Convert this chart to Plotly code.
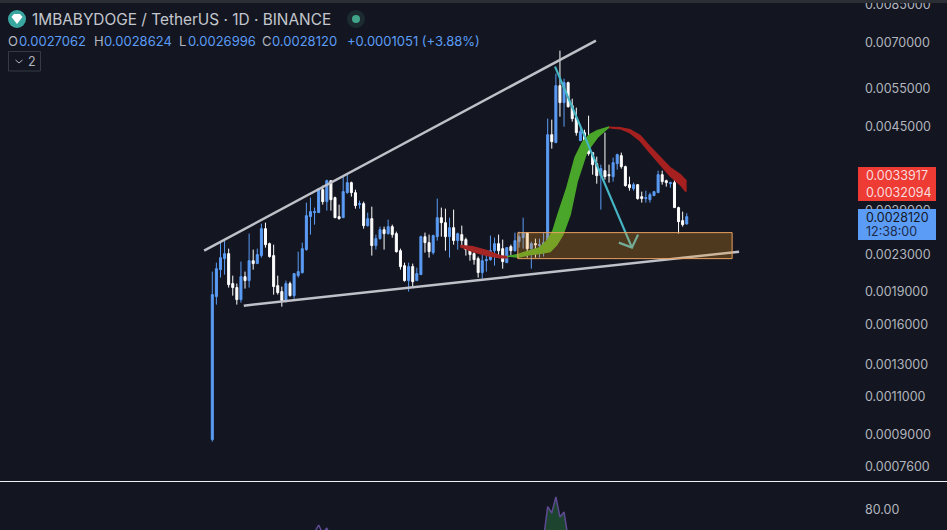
import numpy as np
import plotly.graph_objects as go

# OHLC in thousandths of USDT, one entry per daily bar
opens = [.877,1.852,2.132,2.258,2.318,1.982,1.941,1.823,2.055,2.013,2.234,2.200,2.294,2.641,2.442,2.294,1.961,1.901,1.804,1.982,
 1.861,2.066,2.099,2.367,2.812,2.872,2.872,3.238,3.041,3.394,3.106,2.812,2.797,3.188,3.359,3.188,2.994,3.010,2.683,2.783,
 2.417,2.507,2.627,2.573,2.669,2.573,2.354,2.177,2.013,2.166,2.013,2.077,2.533,2.455,2.330,2.533,2.797,2.725,2.533,2.655,
 2.481,2.560,2.494,2.379,2.318,2.258,2.099,2.234,2.246,2.354,2.442,2.379,2.211,2.404,2.354,2.468,2.520,2.587,2.379,2.442,
 2.417,2.417,2.417,4.316,4.140,5.576,5.102,5.664,5.022,4.717,4.183,4.362,4.205,3.929,3.709,3.484,3.576,3.502,3.466,3.709,
 3.868,3.652,3.324,3.255,3.324,3.122,3.090,3.073,3.138,3.188,3.502,3.394,3.341,3.359,2.948,2.754,2.7062]
highs = [2.110,2.211,2.455,2.481,2.379,2.066,1.982,2.223,2.110,2.573,2.367,2.379,2.711,2.725,2.455,2.429,2.066,1.951,2.013,2.002,
 2.088,2.342,2.455,3.026,3.106,2.948,3.255,3.307,3.412,3.394,3.122,2.994,3.466,3.502,3.377,3.238,3.057,3.041,2.872,2.963,
 2.560,2.669,2.669,2.768,2.697,2.600,2.379,2.211,2.211,2.200,2.154,2.547,2.587,2.560,2.560,3.090,2.948,2.932,2.797,2.917,
 2.587,2.683,2.520,2.404,2.392,2.282,2.306,2.294,2.547,2.520,2.560,2.494,2.392,2.429,2.587,2.600,2.797,2.587,2.468,2.507,
 2.507,2.587,4.693,4.668,5.937,6.695,5.784,5.694,5.209,4.970,4.548,4.431,4.767,3.929,3.848,3.690,4.362,3.690,3.828,3.909,
 3.929,3.671,3.466,3.359,3.324,3.205,3.221,3.188,3.205,3.576,3.576,3.412,3.377,3.558,2.963,2.887,2.8624]
lows = [.868,1.776,2.045,2.077,1.941,1.861,1.776,1.795,1.931,1.941,2.132,2.200,2.270,2.392,2.270,1.871,1.871,1.757,1.795,1.852,
 1.832,2.045,2.088,2.354,2.560,2.697,2.872,2.994,2.902,2.902,2.797,2.768,2.797,3.171,3.122,2.932,2.932,2.641,2.669,2.294,
 2.367,2.494,2.367,2.560,2.520,2.330,2.132,2.002,1.901,1.941,2.013,2.077,2.330,2.270,2.306,2.481,2.533,2.354,2.270,2.429,
 2.367,2.404,2.294,2.234,2.188,2.045,2.034,2.110,2.234,2.177,2.270,2.143,2.211,2.294,2.342,2.392,2.379,2.270,2.143,2.270,
 2.270,2.282,2.417,4.012,4.140,4.742,4.501,4.970,4.620,4.294,4.183,4.033,3.868,3.502,3.341,2.917,3.412,3.359,3.377,3.595,
 3.614,3.290,3.221,3.221,3.073,3.026,3.026,3.026,3.138,3.188,3.324,3.290,3.272,2.948,2.573,2.669,2.6996]
closes = [1.871,2.143,2.270,2.318,1.971,1.941,1.823,2.055,2.013,2.234,2.200,2.306,2.641,2.429,2.282,1.951,1.891,1.813,1.982,1.861,
 2.088,2.110,2.379,2.827,2.887,2.887,3.255,3.041,3.394,3.073,2.797,2.783,3.205,3.359,3.188,2.979,3.010,2.683,2.783,2.417,
 2.507,2.627,2.573,2.669,2.560,2.342,2.166,2.013,2.166,2.002,2.088,2.533,2.455,2.342,2.547,2.797,2.725,2.533,2.655,2.481,
 2.573,2.481,2.367,2.306,2.246,2.099,2.234,2.246,2.354,2.442,2.354,2.223,2.392,2.354,2.481,2.533,2.587,2.379,2.442,2.429,
 2.429,2.455,4.316,4.161,5.576,5.102,5.664,4.996,4.693,4.362,4.385,4.183,3.909,3.690,3.484,3.614,3.466,3.484,3.729,3.888,
 3.652,3.307,3.272,3.324,3.090,3.090,3.106,3.155,3.205,3.502,3.377,3.359,3.359,2.948,2.739,2.697,2.8120]
bars = list(range(len(closes)))

# Drawn objects, as (bar, price in thousandths)
upper_trend_bars = [-2.0, 93.8]
upper_trend_prices = [2.354, 7.055]
lower_trend_bars = [7.7, 128.8]
lower_trend_prices = [1.766, 2.342]
zone_bars = [74.7, 127.1]
zone_prices = [2.258, 2.587]

green_bars = [72.05,74.5,77.7,80.1,81.9,83.3,84.5,86.7,88.7,90.6,92.3,94.1,96.8,
              96.8,94.3,91.6,89.2,87.5,85.7,84.2,82.6,80.1,77.7,74.5]
green_prices = [2.282,2.306,2.354,2.392,2.481,2.614,2.842,3.272,3.828,4.161,4.316,4.408,4.489,
                4.477,4.272,3.950,3.377,2.842,2.560,2.429,2.342,2.318,2.306,2.270]
red_bars = [96.8,99.7,102.1,104.6,107,109.5,111.9,114.4,115.8,
            115.8,114.4,111.9,109.5,107,104.6,102.1,99.7,96.8]
red_prices = [4.489,4.477,4.431,4.294,4.054,3.828,3.633,3.502,3.394,
              3.205,3.324,3.484,3.690,3.929,4.183,4.362,4.454,4.477]
small_red_bars = [60.6,63.7,67.2,70.3,72.05,72.05,70.3,67.2,63.7,60.6]
small_red_prices = [2.417,2.404,2.354,2.294,2.282,2.270,2.270,2.294,2.342,2.404]
arrow_bars = [83.8,102.6,None,99.4,102.6,104.1]
arrow_prices = [6.159,2.392,None,2.455,2.392,2.560]

# Lower pane oscillator, only the two stretches that reach into view
rsi_bars_a = [25,26,27,28,29]
rsi_vals_a = [56,63.7,55,60.6,50]
rsi_bars_b = [81,82,83,84,85,86,87]
rsi_vals_b = [50,82.8,76.2,92.9,72,77.2,50]

price_ticks = [0.0085,0.0070,0.0055,0.0045,0.0029,0.0023,0.0019,0.0016,0.0013,0.0011,0.0009,0.00076]
price_tick_labels = ["0.0085000","0.0070000","0.0055000","0.0045000","0.0029000","0.0023000",
                     "0.0019000","0.0016000","0.0013000","0.0011000","0.0009000","0.0007600"]

BG = "#131620"
BLUE = "#5b9cf6"
GREY = "#b2b5be"
FONT = "Inter"
W_PLOT = 858.0
H = 530.0
BAR_PX = 4.09
FIRST_PX = 212.3


def mk(a):
    return [None if v is None else v * 1e-3 for v in a]


def px(x):
    return x / W_PLOT


def py(y):
    return 1 - y / H


def ribbon(x, y, color):
    return go.Scatter(x=x, y=mk(y), mode="lines", fill="toself", fillcolor=color,
                      line=dict(color=color, width=1.5), hoverinfo="skip", showlegend=False)


fig = go.Figure()
fig.add_trace(ribbon(small_red_bars, small_red_prices, "#a62626"))
fig.add_trace(ribbon(red_bars, red_prices, "#a62020"))
fig.add_trace(ribbon(green_bars, green_prices, "#4aa62a"))
fig.add_trace(go.Candlestick(x=bars, open=mk(opens), high=mk(highs), low=mk(lows), close=mk(closes),
                             increasing=dict(line=dict(color=BLUE, width=1), fillcolor=BLUE),
                             decreasing=dict(line=dict(color="#ffffff", width=1), fillcolor="#ffffff"),
                             whiskerwidth=0, hoverinfo="skip", showlegend=False))
fig.add_trace(go.Scatter(x=arrow_bars, y=mk(arrow_prices), mode="lines",
                         line=dict(color="#45b5c4", width=2.2), connectgaps=False,
                         hoverinfo="skip", showlegend=False))
fig.add_trace(go.Scatter(x=upper_trend_bars, y=mk(upper_trend_prices), mode="lines",
                         line=dict(color="#bfc0c8", width=2.5), hoverinfo="skip", showlegend=False))
fig.add_trace(go.Scatter(x=lower_trend_bars, y=mk(lower_trend_prices), mode="lines",
                         line=dict(color="#bfc0c8", width=2.5), hoverinfo="skip", showlegend=False))
fig.add_trace(go.Scatter(x=rsi_bars_a, y=rsi_vals_a, yaxis="y2", mode="lines",
                         line=dict(color="#5d4a92", width=1.5), hoverinfo="skip", showlegend=False))
fig.add_trace(go.Scatter(x=rsi_bars_b, y=rsi_vals_b, yaxis="y2", mode="lines", fill="tozeroy",
                         fillcolor="rgba(34,84,52,0.75)",
                         line=dict(color="#5d4a92", width=1.5), hoverinfo="skip", showlegend=False))

shapes = [
    dict(type="rect", xref="paper", yref="paper", x0=0, x1=px(947), y0=py(3), y1=py(0),
         fillcolor="#2c2e36", line_width=0),
    dict(type="line", xref="paper", yref="paper", x0=0, x1=px(947), y0=py(481.5), y1=py(481.5),
         line=dict(color="#f0f0f2", width=1)),
    dict(type="rect", xref="x", yref="y", x0=zone_bars[0], x1=zone_bars[1],
         y0=zone_prices[0] * 1e-3, y1=zone_prices[1] * 1e-3, layer="above",
         fillcolor="rgba(240,150,30,0.27)", line=dict(color="#e8a060", width=1)),
    dict(type="rect", xref="paper", yref="paper", x0=px(858), x1=px(936), y0=py(201), y1=py(167),
         fillcolor="#ee3b34", line_width=0, layer="above"),
    dict(type="rect", xref="paper", yref="paper", x0=px(858), x1=px(936), y0=py(240), y1=py(209),
         fillcolor=BLUE, line_width=0, layer="above"),
    # header icons
    dict(type="circle", xref="paper", yref="paper", x0=px(8), x1=px(26), y0=py(28), y1=py(10),
         fillcolor="#3aa6a0", line_width=0),
    dict(type="path", xref="paper", yref="paper",
         path=f"M {px(11.5)} {py(17)} L {px(14)} {py(14)} L {px(20)} {py(14)} L {px(22.5)} {py(17)} "
              f"L {px(17)} {py(24)} Z",
         fillcolor="#ffffff", line_width=0),
    dict(type="circle", xref="paper", yref="paper", x0=px(347), x1=px(365), y0=py(28), y1=py(10),
         fillcolor="#1b2b30", line_width=0),
    dict(type="circle", xref="paper", yref="paper", x0=px(352), x1=px(360), y0=py(23), y1=py(15),
         fillcolor="#42a58a", line_width=0),
    dict(type="rect", xref="paper", yref="paper", x0=px(8.5), x1=px(40.5), y0=py(71), y1=py(51.5),
         fillcolor="rgba(0,0,0,0)", line=dict(color="#363a45", width=1)),
    dict(type="path", xref="paper", yref="paper",
         path=f"M {px(15.5)} {py(60)} L {px(19)} {py(63)} L {px(22.5)} {py(60)}",
         line=dict(color=GREY, width=1)),
]


def note(x, y, text, color, size, anchor="left"):
    return dict(xref="paper", yref="paper", x=px(x), y=py(y), text=text, showarrow=False,
                xanchor=anchor, yanchor="middle", font=dict(family=FONT, color=color, size=size))


annotations = [
    note(30, 19.5, "1MBABYDOGE / TetherUS · 1D · BINANCE", "#c4c6cd", 15.4),
    note(6, 40.5, "O", GREY, 13), note(16.5, 40.5, "0.0027062", BLUE, 13),
    note(91.5, 40.5, "H", GREY, 13), note(102, 40.5, "0.0028624", BLUE, 13),
    note(176.5, 40.5, "L", GREY, 13), note(185.5, 40.5, "0.0026996", BLUE, 13),
    note(260, 40.5, "C", GREY, 13), note(270, 40.5, "0.0028120", BLUE, 13),
    note(345, 40.5, "+0.0001051 (+3.88%)", BLUE, 13),
    note(32, 61.5, "2", GREY, 12.5, "center"),
    note(864, 175, "0.0033917", "#f6dcdc", 12.5),
    note(864, 192.5, "0.0032094", "#f6dcdc", 12.5),
    note(864, 217.5, "0.0028120", "#131722", 12.5),
    note(864, 231.5, "12:38:00", "#1d2b4a", 12.5),
]

fig.update_layout(
    width=947, height=530, margin=dict(l=0, r=89, t=0, b=0, pad=0, autoexpand=False),
    paper_bgcolor=BG, plot_bgcolor=BG, showlegend=False, hovermode=False, dragmode=False,
    shapes=shapes, annotations=annotations,
    xaxis=dict(range=[(0 - FIRST_PX) / BAR_PX, (W_PLOT - FIRST_PX) / BAR_PX], domain=[0, 1],
               rangeslider=dict(visible=False), showgrid=False, zeroline=False,
               showticklabels=False, ticks="", showline=False),
    yaxis=dict(type="log", range=[-3.1509, -2.0593], domain=[49 / H, 1], side="right",
               tickmode="array", tickvals=price_ticks, ticktext=price_tick_labels,
               showgrid=False, zeroline=False, ticks="", showline=False, ticklabelstandoff=6,
               ticklabeloverflow="allow",
               tickfont=dict(family=FONT, color=GREY, size=12.5)),
    yaxis2=dict(range=[58.5, 108.5], domain=[0, 48 / H], side="right", anchor="x",
                tickmode="array", tickvals=[80], ticktext=["80.00"],
                showgrid=False, zeroline=False, ticks="", showline=False, ticklabelstandoff=6,
                tickfont=dict(family=FONT, color=GREY, size=12.5)),
)
fig.write_html("out.html", config=dict(displayModeBar=False),
               post_script="document.body.style.margin='0';")
